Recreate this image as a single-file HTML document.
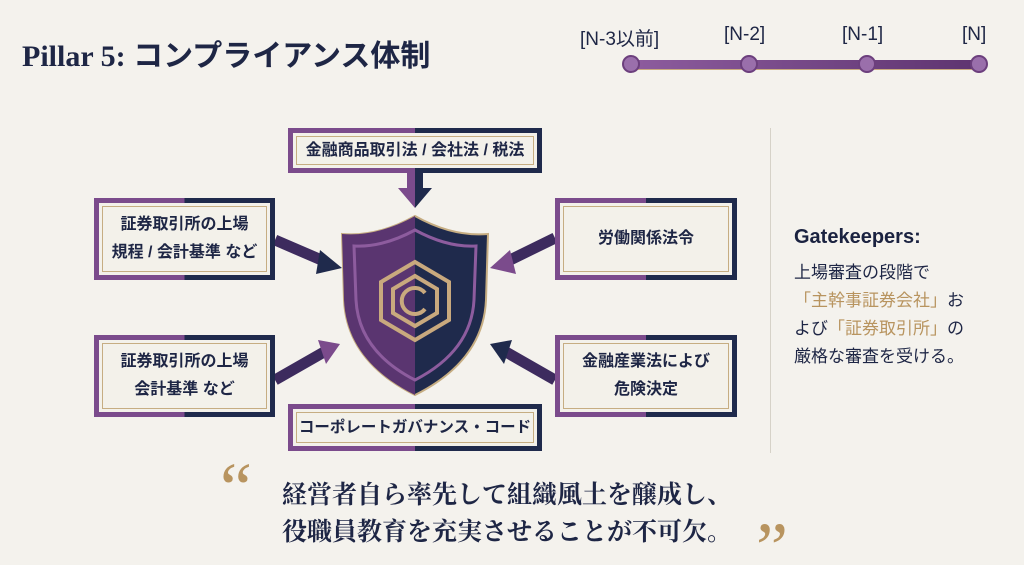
<!DOCTYPE html>
<html><head><meta charset="utf-8"><style>
html,body{margin:0;width:1024px;height:565px;overflow:hidden}
body{background:#f4f2ed;position:relative;font-family:"Liberation Sans","Noto Sans CJK JP",sans-serif;color:#1e2645}
.a{position:absolute}
.box{position:absolute;box-sizing:border-box;border:5px solid;border-image:linear-gradient(90deg,#7b4b8c 50%,#1f2a4c 50%) 1;background:#f3f1ea}
.box .in{position:absolute;inset:3px;border:1px solid #c6ad82;display:flex;align-items:center;justify-content:center;text-align:center;font-weight:bold;font-size:16px;line-height:28px;color:#1e2645;white-space:nowrap}
.tl{position:absolute;top:24px;font-size:19px;color:#1e2645}
.dot{position:absolute;top:55px;width:14px;height:14px;border-radius:50%;background:#9a6fab;border:2px solid #6c3f7d}
</style></head><body>
<div class="a" style="left:22px;top:31px;font-family:'Liberation Serif','Noto Sans CJK JP',serif;font-weight:bold;font-size:30px;color:#1e2645">Pillar 5: コンプライアンス体制</div>

<div class="a" style="left:631px;top:60px;width:348px;height:9px;background:linear-gradient(90deg,#8d5c9e,#5e3470);border-radius:4px;box-shadow:0 1px 0 #c9a97e"></div>
<div class="dot" style="left:622px"></div><div class="dot" style="left:740px"></div><div class="dot" style="left:858px"></div><div class="dot" style="left:970px"></div>
<div class="tl" style="left:580px">[N-3以前]</div>
<div class="tl" style="left:724px">[N-2]</div>
<div class="tl" style="left:842px">[N-1]</div>
<div class="tl" style="left:962px">[N]</div>

<svg class="a" style="left:0;top:0" width="1024" height="565">
<defs><linearGradient id="ag" x1="0" x2="1"><stop offset="0.5" stop-color="#7b4b8c"/><stop offset="0.5" stop-color="#1f2a4c"/></linearGradient></defs>
<g fill="url(#ag)">
<polygon points="407,172 423,172 423,188 432,188 415,208 398,188 407,188"/>
</g>
<g stroke-width="11" fill="none">
<line x1="275" y1="240" x2="326" y2="262" stroke="#3d2b5e"/>
<line x1="275" y1="380" x2="324" y2="352" stroke="#3d2b5e"/>
<line x1="555" y1="238" x2="506" y2="262" stroke="#3d2b5e"/>
<line x1="555" y1="380" x2="506" y2="352" stroke="#3d2b5e"/>
</g>
<polygon points="320,250 342,268 316,274" fill="#1f2a4c"/>
<polygon points="318,340 340,344 326,364" fill="#7b4b8c"/>
<polygon points="510,250 490,268 516,274" fill="#7b4b8c"/>
<polygon points="512,340 490,344 504,364" fill="#1f2a4c"/>
<path d="M415,216 C440,230 465,236 488,234 L486,300 C484,345 455,375 415,395 C375,375 346,345 344,300 L342,234 C365,236 390,230 415,216Z" fill="#1f2a4c" stroke="#c6ad82" stroke-width="2"/>
<path d="M415,216 C390,230 365,236 342,234 L344,300 C346,345 375,375 415,395Z" fill="#5a3570"/>
<path d="M415,230 C437,242 458,247 476,246 L474,300 C472,338 448,363 415,380 C382,363 358,338 356,300 L354,246 C372,247 393,242 415,230Z" fill="none" stroke="#8d5c9e" stroke-width="3"/>
<g fill="none" stroke="#c9a97e" stroke-width="4">
<polygon points="415,262 449,282 449,320 415,340 381,320 381,282"/>
<polygon points="415,276 437,289 437,313 415,326 393,313 393,289"/>
<path d="M425,293 A13,13 0 1 0 425,309"/>
</g>
</svg>

<div class="box" style="left:288px;top:128px;width:254px;height:45px"><div class="in">金融商品取引法 / 会社法 / 税法</div></div>
<div class="box" style="left:94px;top:198px;width:181px;height:82px"><div class="in">証券取引所の上場<br>規程 / 会計基準 など</div></div>
<div class="box" style="left:94px;top:335px;width:181px;height:82px"><div class="in">証券取引所の上場<br>会計基準 など</div></div>
<div class="box" style="left:555px;top:198px;width:182px;height:82px"><div class="in">労働関係法令</div></div>
<div class="box" style="left:555px;top:335px;width:182px;height:82px"><div class="in">金融産業法によび<br>危険決定</div></div>
<div class="box" style="left:288px;top:404px;width:254px;height:47px"><div class="in" style="font-size:15.5px">コーポレートガバナンス・コード</div></div>

<div class="a" style="left:770px;top:128px;width:1px;height:325px;background:#d6d2c8"></div>
<div class="a" style="left:794px;top:226px;font-weight:bold;font-size:20px;color:#1a2240">Gatekeepers:</div>
<div class="a" style="left:794px;top:259px;font-size:17px;line-height:28px;color:#1e2645">上場審査の段階で<br><span style="color:#b8945f">「主幹事証券会社」</span>お<br>よび<span style="color:#b8945f">「証券取引所」</span>の<br>厳格な審査を受ける。</div>

<div class="a" style="left:220px;top:452px;font-family:'Liberation Serif',serif;font-size:72px;color:#b8945f;line-height:72px">“</div>
<div class="a" style="left:756px;top:512px;font-family:'Liberation Serif',serif;font-size:72px;color:#b8945f;line-height:72px">”</div>
<div class="a" style="left:282px;top:475px;font-family:'Noto Serif CJK SC',serif;font-weight:bold;font-size:25px;line-height:37px;color:#1e2645">経営者自ら率先して組織風土を醸成し、<br>役職員教育を充実させることが不可欠。</div>
</body></html>
